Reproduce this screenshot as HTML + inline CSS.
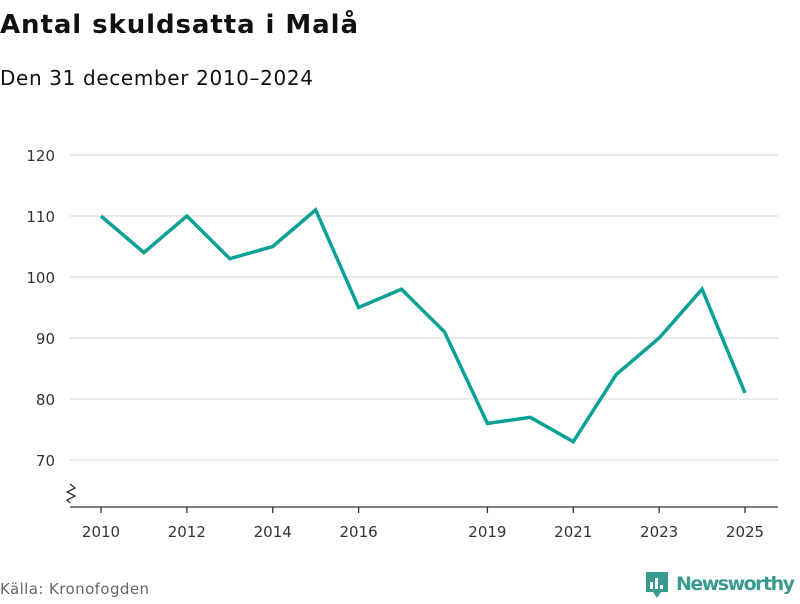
<!DOCTYPE html>
<html><head><meta charset="utf-8"><style>
body{margin:0;width:800px;height:600px;background:#fff;font-family:"DejaVu Sans","Liberation Sans",sans-serif;overflow:hidden}
</style></head><body>
<svg width="800" height="600" font-family="DejaVu Sans, Liberation Sans, sans-serif">
<text x="0" y="33" font-size="26" font-weight="bold" fill="#111" textLength="358">Antal skuldsatta i Malå</text>
<text x="0" y="85" font-size="20" fill="#111" textLength="313">Den 31 december 2010–2024</text>
<g id="grid"></g>
<g id="xaxis"></g>
<path d="M70 484 l5 4 l-8 4 l8 4 l-8 4 l3 3" fill="none" stroke="#333" stroke-width="1.3"/>
<line x1="70" y1="507" x2="778" y2="507" stroke="#333" stroke-width="1.3"/>
<path id="line" fill="none" stroke="#0ca197" stroke-width="3.5" stroke-linejoin="miter"/>
<text x="0" y="594" font-size="15" fill="#666" textLength="149">Källa: Kronofogden</text>
<g>
<path d="M646 572 h22 v20 h-7 l-4 6 l-4 -6 h-7 z" fill="#3a9a8f"/>
<rect x="650" y="582" width="3" height="7" fill="#fff"/><rect x="655" y="578" width="3" height="11" fill="#fff"/><rect x="660" y="585" width="3" height="4" fill="#fff"/>
<text x="676" y="590" font-size="19" font-weight="bold" fill="#3a9a8f" textLength="119">Newsworthy</text>
</g>
</svg>
<script>
const years=[2010,2011,2012,2013,2014,2015,2016,2017,2018,2019,2020,2021,2022,2023,2024,2025];
const values=[110,104,110,103,105,111,95,98,91,76,77,73,84,90,98,81];
const yTicks=[70,80,90,100,110,120];
const xTicks=[2010,2012,2014,2016,2019,2021,2023,2025];
const x=v=>101+(v-2010)*(745-101)/15;
const y=v=>460-(v-70)*(460-155)/50;
const NS="http://www.w3.org/2000/svg";
const g=document.getElementById('grid');
yTicks.forEach(t=>{
 const l=document.createElementNS(NS,'line');
 l.setAttribute('x1',70);l.setAttribute('x2',778);l.setAttribute('y1',y(t));l.setAttribute('y2',y(t));
 l.setAttribute('stroke','#ddd');l.setAttribute('stroke-width','1.3');
 
 
 g.appendChild(l);
 const tx=document.createElementNS(NS,'text');
 tx.setAttribute('x',55);tx.setAttribute('y',y(t)+6);tx.setAttribute('text-anchor','end');
 tx.setAttribute('font-size','15');tx.setAttribute('fill','#333');tx.textContent=t;
 
 
 g.appendChild(tx);
});
const xa=document.getElementById('xaxis');
xTicks.forEach(t=>{
 const l=document.createElementNS(NS,'line');
 l.setAttribute('x1',x(t));l.setAttribute('x2',x(t));l.setAttribute('y1',507);l.setAttribute('y2',513);
 l.setAttribute('stroke','#333');l.setAttribute('stroke-width','1.3');
 
 
 xa.appendChild(l);
 const tx=document.createElementNS(NS,'text');
 tx.setAttribute('x',x(t));tx.setAttribute('y',537);tx.setAttribute('text-anchor','middle');
 tx.setAttribute('font-size','15');tx.setAttribute('fill','#333');tx.textContent=t;
 
 
 xa.appendChild(tx);
});
document.getElementById('line').setAttribute('d',years.map((yr,i)=>(i?'L':'M')+x(yr)+' '+y(values[i])).join(' '));
</script>
</body></html>
